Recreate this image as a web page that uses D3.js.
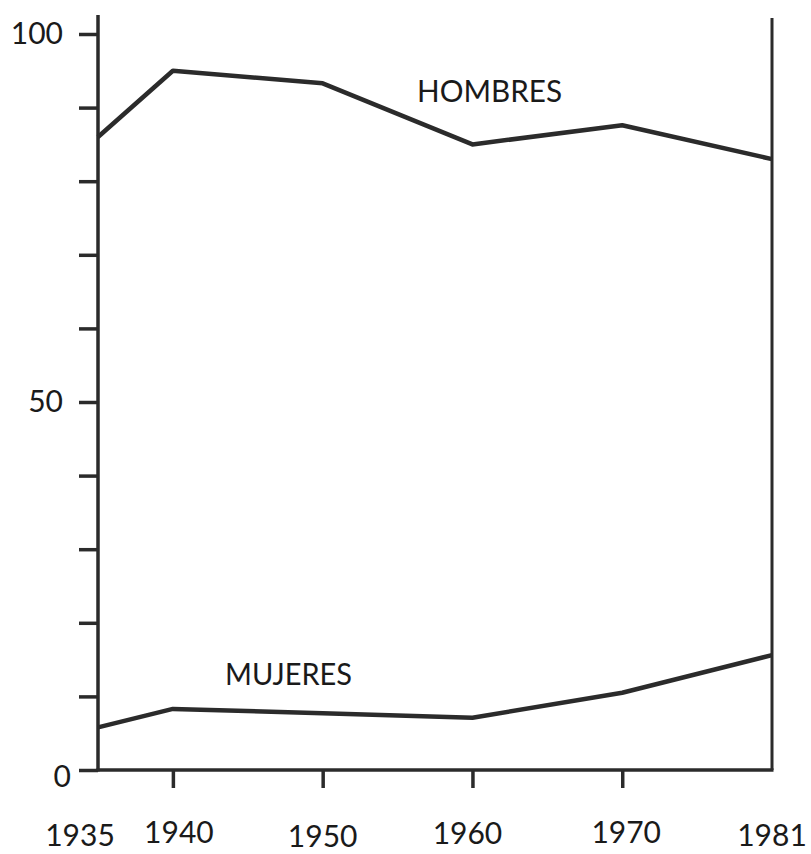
<!DOCTYPE html>
<html><head><meta charset="utf-8">
<script src="https://cdn.jsdelivr.net/npm/d3@7"></script>
<style>body{margin:0;background:#fff}svg{display:block}</style>
</head><body>
<svg id="c" width="811" height="854"></svg>
<script>
const years = [1935, 1940, 1950, 1960, 1970, 1981];
const hombres = [86, 95, 93.3, 85, 87.6, 83];
const mujeres = [5.8, 8.3, 7.7, 7.1, 10.5, 15.6];
const yTicks = [0, 10, 20, 30, 40, 50, 60, 70, 80, 90, 100];
const yLabels = [0, 50, 100];
const seriesNames = ["HOMBRES", "MUJERES"];

const svg = d3.select("#c");
const left = 98, right = 772, bottom = 770, top100 = 34, topLine = 15;
const ink = "#2b2b2b";
const font = "Lato, 'Open Sans', sans-serif";

// x positions: 1935 at half step, then equal steps per period
const idx = [0, 0.5, 1.5, 2.5, 3.5, 4.5];
const xi = d3.scaleLinear().domain([0, 4.5]).range([left, right]);
const x = d3.scaleLinear().domain(years).range(idx.map(xi));
const y = d3.scaleLinear().domain([0, 100]).range([bottom, top100]);

// y axis
const yAxis = d3.axisLeft(y).tickValues(yTicks).tickSize(19)
  .tickFormat(d => yLabels.includes(d) ? d : "").tickPadding(16);
const gy = svg.append("g").attr("transform", `translate(${left},0)`).call(yAxis);
gy.select(".domain").remove();
gy.selectAll(".tick line").attr("stroke", ink).attr("stroke-width", 3.5);
gy.selectAll(".tick text").attr("fill", "#1a1a1a").style("font-family", font).style("font-size", "30px");
gy.selectAll(".tick").filter(d => d === 0).select("text").attr("dx", 8).attr("dy", "0.55em");

// x axis
const xAxis = d3.axisBottom(x).tickValues(years.slice(1, 5)).tickSize(18).tickFormat("");
const gx = svg.append("g").attr("transform", `translate(0,${bottom})`).call(xAxis);
gx.select(".domain").remove();
gx.selectAll(".tick line").attr("stroke", ink).attr("stroke-width", 3.5);

// frame lines
svg.append("line").attr("x1", left).attr("x2", left).attr("y1", topLine).attr("y2", bottom + 1.5)
  .attr("stroke", ink).attr("stroke-width", 3.5);
svg.append("line").attr("x1", left - 1.5).attr("x2", right + 1.5).attr("y1", bottom).attr("y2", bottom)
  .attr("stroke", ink).attr("stroke-width", 3.5);
svg.append("line").attr("x1", right).attr("x2", right).attr("y1", topLine + 3).attr("y2", bottom)
  .attr("stroke", ink).attr("stroke-width", 3);

// x labels
const xLabelDx = {1935: -18, 1940: 6, 1950: 0, 1960: -5, 1970: 4, 1981: 0};
const xLabelY = {1935: 846, 1940: 843, 1950: 847, 1960: 844, 1970: 843, 1981: 846};
svg.selectAll(".xl").data(years).join("text")
  .attr("x", d => x(d) + xLabelDx[d]).attr("y", d => xLabelY[d])
  .attr("text-anchor", "middle").attr("fill", "#1a1a1a")
  .style("font-family", font).style("font-size", "30px")
  .text(d => d);

// lines
const line = d3.line().x((d, i) => x(years[i])).y(d => y(d));
[hombres, mujeres].forEach(s => {
  svg.append("path").datum(s).attr("d", line).attr("fill", "none")
    .attr("stroke", ink).attr("stroke-width", 4.5).attr("stroke-linejoin", "round");
});

// series labels
svg.append("text").attr("x", 417).attr("y", 102).attr("fill", "#1a1a1a")
  .style("font-family", font).style("font-size", "31px")
  .attr("textLength", 145).attr("lengthAdjust", "spacingAndGlyphs").text(seriesNames[0]);
svg.append("text").attr("x", 225).attr("y", 685).attr("fill", "#1a1a1a")
  .style("font-family", font).style("font-size", "30px")
  .attr("textLength", 127).attr("lengthAdjust", "spacingAndGlyphs").text(seriesNames[1]);
</script>
</body></html>
